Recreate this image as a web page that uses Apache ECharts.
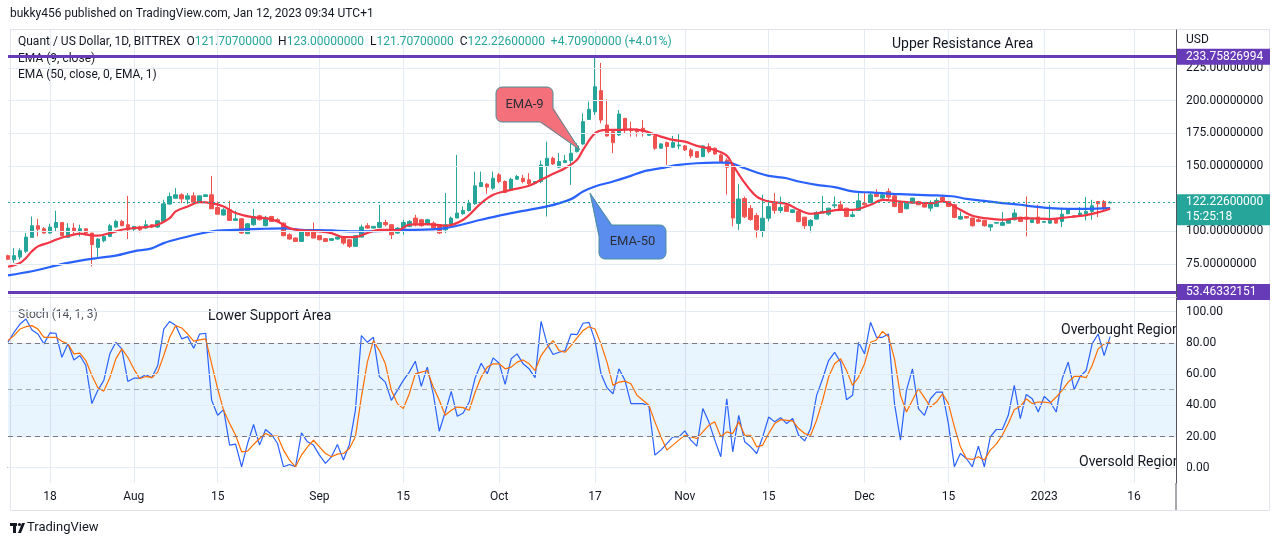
<!DOCTYPE html>
<html><head><meta charset="utf-8">
<script src="https://cdn.jsdelivr.net/npm/echarts@6/dist/echarts.min.js"></script>
<style>html,body{margin:0;padding:0;background:#fff}#c{width:1280px;height:546px}</style>
</head><body><div id="c"></div>
<script>
// ---------- categories (daily bars, one missing day) ----------
const startDate = '2022-07-11';
const skipDates = ['2022-12-25'];
const categoryCount = 196;
const categories = [];
(function(){ let t = Date.parse(startDate + 'T00:00:00Z');
  while (categories.length < categoryCount) { const s = new Date(t).toISOString().slice(0,10);
    if (skipDates.indexOf(s) < 0) categories.push(s); t += 86400000; } })();

const tickDates  = ['2022-07-18','2022-08-01','2022-08-15','2022-09-01','2022-09-15','2022-10-01','2022-10-17','2022-11-01','2022-11-15','2022-12-01','2022-12-15','2023-01-01','2023-01-16'];
const tickLabels = ['18','Aug','15','Sep','15','Oct','17','Nov','15','Dec','15','2023','16'];

// ---------- OHLC ----------
const opens = [81.3,78.2,80.2,84.6,95.3,104.2,101.9,98.6,102.9,106.7,95.3,102.4,99.9,101.9,98.6,87.6,92.7,96.0,103.2,107.5,
105.0,101.6,103.2,102.4,105.0,103.2,107.5,120.8,125.3,127.9,124.6,127.1,122.3,126.6,127.9,118.2,112.4,116.4,108.3,109.5,
98.1,105.0,111.8,104.2,111.3,108.8,106.2,97.3,94.8,92.2,99.9,99.9,96.6,94.3,93.0,94.0,95.5,93.5,88.4,95.5,
104.2,102.4,102.9,106.7,105.0,98.6,102.4,103.7,110.1,108.8,105.0,106.2,105.0,101.1,105.0,110.1,113.4,115.9,121.0,134.3,
136.1,133.0,143.2,138.1,131.7,139.9,140.6,139.4,136.8,138.1,149.6,155.9,149.1,152.6,154.1,161.0,166.9,185.7,191.5,207.7,
181.4,176.3,173.8,186.5,178.1,177.6,178.9,173.5,173.0,163.6,167.9,164.3,165.4,165.4,162.3,161.0,157.2,164.9,163.6,158.5,
154.5,151.0,106.0,125.0,117.5,112.0,99.9,110.0,121.5,115.9,119.5,114.4,115.2,110.8,104.2,109.3,113.9,113.1,119.5,120.3,
117.7,111.3,115.9,121.5,122.0,128.4,125.4,130.5,127.1,122.8,117.2,121.5,122.8,122.0,117.7,119.0,125.9,122.8,120.3,109.3,
111.3,110.1,108.8,108.3,103.2,106.2,104.5,106.2,108.8,110.8,110.8,106.7,110.8,106.9,106.2,109.3,107.5,113.4,111.8,111.8,
113.4,115.2,122.8,122.8,121.707];
const highs = [82.0,87.1,86.9,98.6,111.3,109.5,103.2,105.7,115.7,106.9,106.2,106.2,105.0,102.1,98.8,94.8,97.3,105.7,108.8,108.8,
127.1,104.0,104.2,108.3,105.2,108.2,124.1,129.7,133.0,129.2,129.2,129.9,127.3,128.2,142.4,122.8,117.7,123.3,115.7,109.7,
105.9,117.2,112.6,111.8,111.8,110.0,106.7,98.6,95.3,100.2,101.1,106.7,96.8,94.8,94.8,96.0,95.7,93.7,97.0,105.0,
106.2,103.9,120.3,108.8,105.5,103.0,108.8,108.5,112.6,109.5,109.5,107.5,105.5,129.2,111.3,158.5,119.0,124.1,145.7,145.7,
136.8,145.7,144.5,138.9,141.0,143.2,143.2,144.5,138.5,154.1,168.7,157.2,159.8,158.5,172.5,167.4,190.3,199.3,233.76,229.0,
201.0,177.6,192.9,186.7,184.0,178.9,185.2,175.0,173.8,167.5,168.7,173.0,174.5,166.0,163.6,161.5,166.0,167.4,164.3,159.5,
155.9,152.0,136.0,126.6,120.0,113.9,127.9,124.0,129.2,126.6,120.3,116.6,115.4,111.0,109.3,115.2,127.1,117.9,126.6,123.3,
117.9,115.2,130.5,129.2,129.7,132.2,129.2,133.0,127.6,123.3,122.0,125.6,123.3,122.5,123.6,125.4,127.9,123.0,121.0,115.2,
111.5,110.5,110.8,108.5,105.0,106.9,114.7,109.0,117.0,111.0,126.6,109.0,120.3,107.8,120.3,109.5,117.7,117.7,112.0,118.5,
126.1,124.1,122.9,124.0,123.0];
const lows = [78.0,75.7,78.2,83.3,94.8,96.0,98.1,98.1,99.9,96.0,94.8,96.6,96.0,96.6,73.1,79.5,91.5,95.5,102.4,104.0,
94.0,99.9,99.1,101.6,102.4,102.4,107.3,120.3,124.8,121.5,120.8,121.5,121.5,126.3,117.0,113.0,112.1,108.0,108.0,98.0,
98.0,104.2,108.3,103.7,107.3,106.8,96.0,93.5,91.7,91.7,96.0,94.5,93.0,92.0,92.5,93.5,89.7,87.1,88.0,95.3,
101.9,102.2,102.4,103.7,94.0,98.0,97.3,103.0,103.7,103.5,104.5,101.1,98.0,98.6,103.7,110.1,112.6,115.2,120.3,134.0,
128.7,131.7,136.8,129.2,131.0,139.4,136.8,135.5,136.0,136.8,111.3,150.8,148.3,152.4,135.5,160.3,166.1,185.2,189.1,182.7,
172.5,159.8,173.0,175.0,172.5,172.5,172.5,173.0,162.3,163.0,150.8,163.6,162.8,161.5,155.9,156.0,156.7,159.8,158.5,152.6,
128.0,103.7,101.0,110.1,108.0,95.0,95.5,107.5,113.4,113.9,115.0,113.9,106.7,101.7,99.1,109.0,113.7,111.8,117.7,116.4,
110.8,110.8,115.7,119.7,121.5,126.1,124.8,124.1,118.5,113.9,116.9,121.0,120.0,118.2,115.2,118.5,122.8,118.5,110.1,108.8,
109.8,103.5,107.0,103.5,99.9,106.0,104.2,106.0,108.3,107.3,96.0,106.2,105.7,106.5,105.7,106.0,103.2,112.9,110.6,111.3,
108.3,108.8,110.8,115.0,121.707];
const closes = [78.5,81.3,85.1,95.5,104.2,101.6,98.6,103.2,106.7,96.6,102.4,99.9,101.9,98.6,89.7,94.0,96.0,104.2,107.5,104.2,
101.1,103.7,101.1,105.0,103.2,108.0,121.0,126.6,127.9,124.8,127.1,122.3,127.1,127.9,117.2,113.1,116.4,108.3,109.5,98.6,
105.7,111.3,108.8,110.6,107.5,107.5,96.6,94.0,92.2,99.9,96.6,94.8,93.5,92.2,94.3,95.5,90.9,88.4,96.6,103.2,
102.4,103.7,106.7,105.0,97.3,102.4,106.7,107.5,105.0,104.2,108.8,102.4,98.6,105.0,110.1,113.9,115.9,121.5,134.8,137.3,
133.8,140.6,138.1,129.7,139.9,141.9,138.1,136.3,138.1,150.8,155.9,151.6,153.4,154.1,159.8,165.4,184.0,193.4,210.7,185.2,
173.0,167.9,189.8,177.6,177.1,176.3,176.3,174.5,163.6,166.9,164.9,167.9,166.1,162.3,157.7,156.7,165.4,161.0,159.2,153.4,
149.0,110.1,124.7,111.0,109.0,101.1,110.0,118.8,116.0,118.2,115.2,116.4,107.5,104.2,108.3,114.4,115.2,117.7,120.3,117.0,
111.3,112.6,123.3,120.3,127.9,126.6,127.9,126.1,119.0,114.4,121.5,125.4,120.3,118.5,121.0,123.6,123.6,119.0,110.6,111.3,
110.1,104.2,107.5,104.2,105.0,106.7,106.7,108.8,113.9,107.5,109.3,108.8,106.2,107.5,108.3,106.2,113.1,117.0,110.8,113.9,
115.2,119.5,121.0,117.5,122.226];

// ---------- EMA readings (bar index, value) ----------
const ema9Idx = [0,2,3,4,5,7,8,10,12,14,15,17,19,21,23,25,27,28,30,32,34,36,38,41,43,45,47,49,52,54,56,58,60,62,64,65,67,70,73,76,79,81,84,87,89,91,93,95,96,98,100,102,104,106,109,111,113,115,118,120,121,123,125,127,130,132,134,136,139,141,144,146,149,151,154,156,159,161,163,166,169,171,174,176,178,180,182,184];
const ema9Val = [72.8,75.7,79.5,84.6,88.4,91.5,93.5,96.3,98.1,96.8,96.6,98.6,101.1,102.4,103.2,105,110.1,115.2,119,122.3,121.5,119,114,110.6,110.1,107.5,102.4,100.6,99.9,98.6,95.5,95.5,98.6,101.1,101.1,100.6,105,105.5,104.2,108.8,121.5,127.9,131.7,134.8,139.4,144,148.3,154.7,162.3,175,177.6,177.6,178.1,177.1,172.5,170,168.7,165.4,162.3,158,150.8,137,126.6,122.8,121,116.4,113.4,114.4,116.4,116.4,120.3,124.1,122.8,122,121.5,122.8,116.4,111.8,110.1,108.8,110.1,109.8,109.3,110.2,111.3,112.4,114.4,117.2];
const ema50Idx = [0,4,7,10,13,15,18,21,24,26,29,32,35,38,40,43,46,49,51,54,57,60,63,65,68,73,79,84,90,94,96,98,101,104,106,109,112,115,118,120,123,125,127,130,132,135,138,141,144,146,149,152,155,158,160,163,166,169,171,174,177,180,184];
const ema50Val = [66.2,69.3,72.6,75.7,78.2,79.5,81.3,84.6,86.9,90.9,94.8,98.1,100.4,101.1,101.6,101.9,102.2,101.1,100.9,100.6,99.9,99.9,100.2,101.1,101.1,102.4,108.8,113.9,119,124.6,130.4,134.3,138.1,142.4,145.7,148.3,150.8,152.1,152.6,152.6,148.3,145,142.4,140.6,138.1,135.5,133.8,130.5,129.7,129.2,128.4,127.9,127.4,126.6,124.8,123.3,121.5,120.3,119,117.7,117.2,117.2,117.7];

// ---------- Stochastic (14,1,3) ----------
const stochK = [80.4,86.8,92.1,95.3,88.3,85.7,79.4,86.4,86.2,70.8,79.4,69.1,71.9,65.5,41.1,49.6,56,73,80.4,76.2,
55.3,57.4,57.4,59.8,57.7,65.5,88.9,93.8,91.1,82.6,84,76.6,85.7,86.2,43.2,33.6,37.2,14.5,15.1,0.6,
15.5,27.7,14.5,24.5,21.3,15.5,0.6,2.1,0.6,22.3,16.6,14.5,8.1,2.8,7,14.9,4.9,14.9,36.8,84.7,
80.4,83.6,58.5,54.9,43.2,49.6,56,61.3,68.3,52.1,64.5,47.4,23.4,35.7,48.9,33,35.1,42.1,57.7,67,
60.2,70.4,67,53.4,69.8,73,66.6,63.4,57.7,93.8,79.4,72.6,74,75.1,85.7,85.3,92.6,93.2,81.5,60.2,
51.3,47.4,63.4,56,41.1,41.1,41.1,39.4,8.1,11.3,15.5,19.8,19.8,23.6,17.7,13.8,37.9,29.4,17.7,7,
44.2,10.2,33.6,16.6,13.4,9.1,19.8,32.5,29.4,32.1,28.3,31.5,20.8,17.2,25.1,46.4,57,68.7,74,67.7,
43.6,46.4,80.4,73,93.2,83.6,83.6,85.7,41.1,17.7,49.6,63.4,37.9,33.6,44.2,48.5,48.5,28.3,0.6,9.1,
5.9,0.6,13.8,0.6,19.8,24.5,24.5,33.6,52.8,31.5,47,44.2,35.7,45.7,42.1,35.7,57,67.7,50,58.5,
62.3,79.4,85.7,71.9,84];
const stochD = [81.5,84.7,88.9,90.4,91.1,88.9,83.6,83.6,83.6,81.1,79.4,73,73.4,68.7,59.1,51.3,49.1,57.7,69.8,76.2,
70.8,63.4,57,58.5,57.7,61.3,71.9,83.6,91.1,89.6,85.7,81.1,81.9,82.6,66.6,50.6,36.8,28.3,20.8,10.2,
10.6,14.9,18.7,21.9,20.2,20.2,11.3,4.9,0.6,8.1,13.4,17.6,13.4,9.1,7,8.7,9.1,12.3,19.8,45.3,
67.7,81.5,75.1,66.6,49.6,41.1,37.9,47.4,60.2,61.3,62.3,51.7,43.2,33.6,36.8,38.9,38.5,36.8,48.5,58.1,
64.5,66.6,66.6,63.4,64.5,67.7,69.1,66.6,62.3,71.9,77.2,81.5,75.1,74,78.3,83.2,87.9,90.4,88.9,79.4,
67.7,52.8,54.9,55.5,53.8,46.4,43.2,40,29.4,19.8,11.3,14.5,17.7,20.8,19.8,18.7,23,27.2,29.4,19.8,
23,21.9,29.4,20.8,20.8,13.4,14.5,21.9,28.3,30.8,30.4,30,25.1,21.9,20.8,30.4,43.2,58.1,66.6,69.8,
62.3,52.8,58.1,66.6,80.4,81.9,87.4,84,69.8,46.4,35.7,43.2,50.6,44.9,38.9,42.1,47.4,41.1,26.2,13.4,
5.9,5.3,7,4.9,11.3,15.1,20.8,28.3,37.2,39.4,44.2,41.1,42.1,42.1,41.5,45.3,49.6,54.9,58.5,58.5,
57.7,65.5,76.2,79.4,80.4];

// ---------- levels & ticks ----------
const upperLevel = 233.75826994, lowerLevel = 53.46332151, lastClose = 122.226;
const priceTicks = [75,100,150,175,200];
const priceTopTick = 225;
const priceGrid  = [75,100,150,175,200,225];
const stochTicks = [0,20,40,60,80,100];
const stochDashed = [80,50,20];

// ---------- build ----------
const FONT = 'Roboto, "Noto Sans", sans-serif';
const gridColor = '#e5ebf2';
const tickSet = new Set(tickDates);
const tickMap = {}; tickDates.forEach((d,i)=>tickMap[d]=tickLabels[i]);
const tickInterval = (idx, val) => tickSet.has(val);
const candleData = opens.map((o,i)=>[o, closes[i], lows[i], highs[i]]);
const ema9Data = ema9Idx.map((k,j)=>[k, ema9Val[j]]);
const ema50Data = ema50Idx.map((k,j)=>[k, ema50Val[j]]);

const chart = echarts.init(document.getElementById('c'), null, {renderer:'canvas'});
const option = {
  animation:false, backgroundColor:'#ffffff', textStyle:{fontFamily:FONT},
  grid:[{left:8,right:104,top:30,height:267},{left:8,right:104,top:298,height:185}],
  xAxis:[
    {type:'category',gridIndex:0,data:categories,boundaryGap:false,
     axisLine:{show:true,lineStyle:{color:'#e0e3eb'}},axisTick:{show:false},axisLabel:{show:false},
     splitLine:{show:true,interval:tickInterval,lineStyle:{color:gridColor}}},
    {type:'category',gridIndex:1,data:categories,boundaryGap:false,
     axisLine:{show:true,lineStyle:{color:'#50535e'}},axisTick:{show:false},
     axisLabel:{show:true,interval:tickInterval,formatter:v=>tickMap[v]||'',color:'#131722',fontSize:12,margin:8,fontFamily:FONT},
     splitLine:{show:true,interval:tickInterval,lineStyle:{color:gridColor}}}
  ],
  yAxis:[
    {type:'value',gridIndex:0,position:'right',min:49.6,max:254.2,
     axisLine:{show:true,lineStyle:{color:'#50535e'}},axisTick:{show:false},splitLine:{show:false},
     axisLabel:{customValues:priceTicks,formatter:v=>Number(v).toFixed(8),color:'#131722',fontSize:12,margin:10,fontFamily:FONT}},
    {type:'value',gridIndex:1,position:'right',min:-9.8,max:108.8,
     axisLine:{show:true,lineStyle:{color:'#50535e'}},axisTick:{show:false},splitLine:{show:false},
     axisLabel:{customValues:stochTicks,showMinLabel:true,showMaxLabel:true,
       formatter:v=>Number(v).toFixed(2),color:'#131722',fontSize:12,margin:10,fontFamily:FONT}}
  ],
  series:[
    {type:'line',xAxisIndex:0,yAxisIndex:0,data:[],z:1,silent:true,
     markLine:{silent:true,symbol:['none','none'],label:{show:false},lineStyle:{color:gridColor,width:1,type:'solid'},
       data:priceGrid.map(v=>(v===priceTopTick
         ? {yAxis:v,label:{show:true,position:'end',distance:10,formatter:v.toFixed(8),color:'#131722',fontSize:12,fontFamily:FONT}}
         : {yAxis:v}))}},
    {type:'candlestick',xAxisIndex:0,yAxisIndex:0,data:candleData,barWidth:4,z:2,
     itemStyle:{color:'#26a69a',color0:'#ef5350',borderColor:'#26a69a',borderColor0:'#ef5350',borderWidth:1}},
    {type:'line',name:'EMA50',xAxisIndex:0,yAxisIndex:0,data:ema50Data,smooth:0.35,showSymbol:false,z:3,
     lineStyle:{color:'#2962ff',width:2.2}},
    {type:'line',name:'EMA9',xAxisIndex:0,yAxisIndex:0,data:ema9Data,smooth:0.35,showSymbol:false,z:4,
     lineStyle:{color:'#f23645',width:2.2}},
    {type:'line',xAxisIndex:0,yAxisIndex:0,data:[],z:5,silent:true,
     markLine:{silent:true,symbol:['none','none'],label:{show:false},
       data:[{yAxis:upperLevel,lineStyle:{color:'#673ab7',width:3,type:'solid'}},
             {yAxis:lowerLevel,lineStyle:{color:'#673ab7',width:3,type:'solid'}},
             {yAxis:lastClose,lineStyle:{color:'#26a69a',width:1,type:[2,3]}}]}},
    {type:'line',xAxisIndex:1,yAxisIndex:1,data:[],z:1,silent:true,
     markArea:{silent:true,itemStyle:{color:'rgba(33,150,243,0.1)'},data:[[{yAxis:20},{yAxis:80}]]},
     markLine:{silent:true,symbol:['none','none'],label:{show:false},lineStyle:{color:gridColor,width:1,type:'solid'},
       data:stochTicks.map(v=>({yAxis:v}))}},
    {type:'line',xAxisIndex:1,yAxisIndex:1,data:[],z:2,silent:true,
     markLine:{silent:true,symbol:['none','none'],label:{show:false},
       data:stochDashed.map(v=>({yAxis:v,lineStyle:{color:v===50?'#a3a6af':'#787b86',width:1,type:[5,4]}}))}},
    {type:'line',name:'%K',xAxisIndex:1,yAxisIndex:1,data:stochK,showSymbol:false,z:3,lineStyle:{color:'#2962ff',width:1.2}},
    {type:'line',name:'%D',xAxisIndex:1,yAxisIndex:1,data:stochD,showSymbol:false,z:4,lineStyle:{color:'#ff6d00',width:1.2}}
  ]
};
chart.setOption(option);

const py = v => chart.convertToPixel({yAxisIndex:0}, v);
const axX = chart.convertToPixel({xAxisIndex:0}, categories[categories.length-1]);
const yUp = py(upperLevel), yLow = py(lowerLevel), yLast = py(lastClose);
const T = (x,y,text,opt={}) => ({type:'text',x:x,y:y,z:opt.z||0,silent:true,
  style:Object.assign({text:text,fill:'#131722',font:(opt.size||12)+'px '+FONT,textAlign:'left',textVerticalAlign:'middle'},opt.style||{})});
const callFill9 = '#f4717b', callFill50 = '#5b8def', callStroke = '#4c8e9a';
const elements = [
  {type:'rect',shape:{x:10.5,y:29.5,width:1259,height:481},style:{fill:'none',stroke:'#e0e3eb',lineWidth:1},silent:true,z:0},
  {type:'line',shape:{x1:axX,y1:483,x2:axX,y2:510},style:{stroke:'#50535e',lineWidth:1},silent:true,z:50},
  T(10,14,'bukky456 published on TradingView.com, Jan 12, 2023 09:34 UTC+1'),
  {type:'text',x:18,y:42,silent:true,z:0,style:{
    text:'{d|Quant / US Dollar, 1D, BITTREX  O}{v|121.70700000}{d|  H}{v|123.00000000}{d|  L}{v|121.70700000}{d|  C}{v|122.22600000}{v|  +4.70900000 (+4.01%)}',
    font:'12px '+FONT,textVerticalAlign:'middle',
    rich:{d:{fill:'#131722',font:'12px '+FONT},v:{fill:'#26a69a',font:'12px '+FONT}}}},
  T(18,59,'EMA (9, close)'),
  T(18,75,'EMA (50, close, 0, EMA, 1)'),
  T(892,44,'Upper Resistance Area',{size:14}),
  T(18,315,'Stoch (14, 1, 3)',{style:{fill:'#50535e'}}),
  T(208,316,'Lower Support Area',{size:14}),
  T(1061,330,'Overbought Region',{size:14}),
  T(1079,462,'Oversold Region',{size:14}),
  {type:'rect',shape:{x:axX+1,y:320,width:10,height:20},style:{fill:'#fff'},silent:true,z:40},
  {type:'rect',shape:{x:axX+1,y:452,width:10,height:20},style:{fill:'#fff'},silent:true,z:40},
  T(1186,40,'USD',{z:60}),
  // price labels
  {type:'rect',shape:{x:axX+1,y:yUp-8,width:93,height:16},style:{fill:'#673ab7'},silent:true,z:60},
  T(axX+10,yUp,'233.75826994',{z:61,style:{fill:'#ffffff'}}),
  {type:'rect',shape:{x:axX+1,y:yLow-8,width:93,height:16},style:{fill:'#673ab7'},silent:true,z:60},
  T(axX+10,yLow,'53.46332151',{z:61,style:{fill:'#ffffff'}}),
  {type:'rect',shape:{x:axX+1,y:yLast-8,width:93,height:31},style:{fill:'#26a69a'},silent:true,z:60},
  T(axX+10,yLast,'122.22600000',{z:61,style:{fill:'#ffffff'}}),
  T(axX+10,yLast+15,'15:25:18',{z:61,style:{fill:'#ffffff'}}),
  // EMA-9 callout
  {type:'rect',shape:{x:496,y:87,width:57,height:35,r:6},style:{fill:callFill9,stroke:callStroke,lineWidth:1},silent:true,z:70},
  {type:'polygon',shape:{points:[[540,122.5],[553.6,108],[580,150]]},style:{fill:callFill9},silent:true,z:71},
  {type:'polyline',shape:{points:[[541,122],[580,150],[553,109]]},style:{stroke:callStroke,lineWidth:1,fill:'none'},silent:true,z:72},
  T(524.5,105,'EMA-9',{z:73,size:13,style:{textAlign:'center',fill:'#2a2e39'}}),
  // EMA-50 callout
  {type:'rect',shape:{x:599,y:225,width:67,height:34,r:6},style:{fill:callFill50,stroke:callStroke,lineWidth:1},silent:true,z:70},
  {type:'polygon',shape:{points:[[598.4,236],[590,193],[612,224.4]]},style:{fill:callFill50},silent:true,z:71},
  {type:'polyline',shape:{points:[[599,235],[590,193],[611,225]]},style:{stroke:callStroke,lineWidth:1,fill:'none'},silent:true,z:72},
  T(632.5,242,'EMA-50',{z:73,size:13,style:{textAlign:'center',fill:'#2a2e39'}}),
  // TradingView logo
  {type:'rect',shape:{x:10,y:523,width:7,height:3},style:{fill:'#131722'},silent:true},
  {type:'rect',shape:{x:13,y:523,width:3,height:10},style:{fill:'#131722'},silent:true},
  {type:'circle',shape:{cx:19.5,cy:524.5,r:1.6},style:{fill:'#131722'},silent:true},
  {type:'polygon',shape:{points:[[18,533],[22,523],[25,523],[21,533]]},style:{fill:'#131722'},silent:true},
  T(27,528,'TradingView',{size:13})
];
chart.setOption({graphic:{elements:elements}});
</script></body></html>
